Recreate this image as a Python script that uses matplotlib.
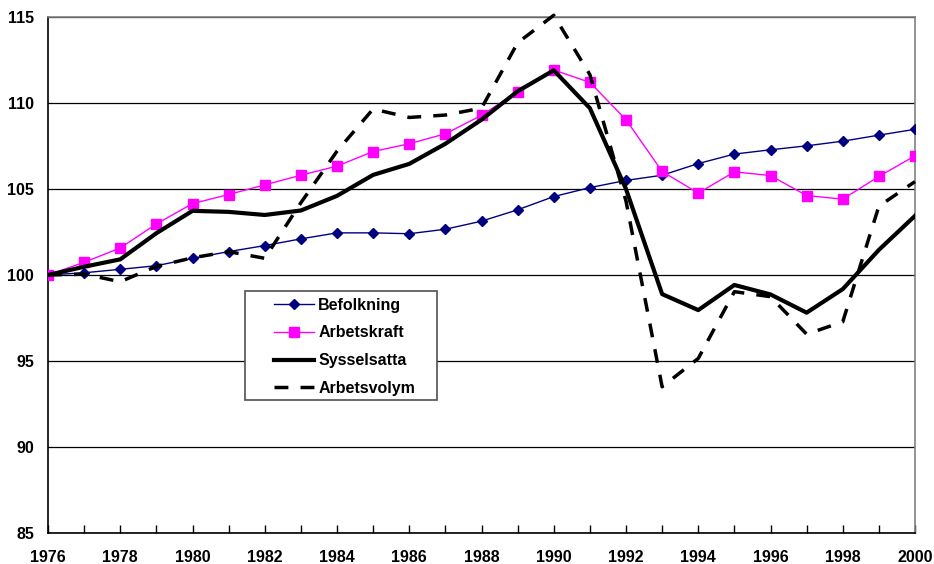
import numpy as np
import matplotlib.pyplot as plt
from matplotlib.ticker import MultipleLocator
from matplotlib.patches import Rectangle

plt.rcParams['font.family'] = ['Liberation Sans', 'DejaVu Sans']

years = list(range(1976, 2001))

befolkning = [100.0, 100.13, 100.33, 100.54, 100.97, 101.36, 101.71, 102.1, 102.45, 102.45,
              102.4, 102.66, 103.13, 103.79, 104.56, 105.08, 105.5, 105.8, 106.48, 107.03,
              107.28, 107.51, 107.78, 108.13, 108.47]
arbetskraft = [100.0, 100.74, 101.57, 102.97, 104.15, 104.68, 105.24, 105.8, 106.33, 107.18,
               107.63, 108.21, 109.28, 110.66, 111.92, 111.2, 109.03, 106.02, 104.76, 106.0,
               105.78, 104.62, 104.41, 105.73, 106.93]
sysselsatta = [100.0, 100.48, 100.91, 102.43, 103.73, 103.67, 103.49, 103.75, 104.6, 105.82,
               106.46, 107.63, 109.03, 110.68, 111.9, 109.7, 105.0, 98.89, 97.96, 99.42,
               98.87, 97.81, 99.18, 101.46, 103.44]
arbetsvolym = [100.0, 100.05, 99.61, 100.5, 101.0, 101.36, 100.97, 104.2, 107.2, 109.65,
               109.16, 109.3, 109.7, 113.5, 115.1, 111.65, 104.3, 93.5, 95.15, 99.03,
               98.74, 96.56, 97.28, 104.0, 105.43]

fig = plt.figure(figsize=(9.34, 5.64), dpi=100)
ax = fig.add_axes([48 / 934, 31 / 564, 867 / 934, 516 / 564])

ax.plot(years, befolkning, color='#000080', lw=1, marker='D', ms=5,
        label='Befolkning', zorder=3)
ax.plot(years, arbetskraft, color='#FF00FF', lw=1, marker='s', ms=7,
        label='Arbetskraft', zorder=3)
ax.plot(years, sysselsatta, color='black', lw=3, label='Sysselsatta', zorder=4)
ax.plot(years, arbetsvolym, color='black', lw=2.5, dashes=(4, 3.5),
        label='Arbetsvolym', zorder=4, clip_on=False)

ax.set_xlim(1976, 2000)
ax.set_ylim(85, 115)
ax.xaxis.set_major_locator(MultipleLocator(2))
ax.xaxis.set_minor_locator(MultipleLocator(1))
ax.yaxis.set_major_locator(MultipleLocator(5))
ax.tick_params(axis='x', which='both', direction='in', length=6, width=1,
               labelsize=11.5, pad=12, colors='black')
ax.tick_params(axis='y', length=0, labelsize=11.5, pad=10)
for lab in ax.get_xticklabels() + ax.get_yticklabels():
    lab.set_fontweight('bold')

ax.grid(axis='y', color='black', lw=0.9)
ax.set_axisbelow(True)
ax.spines['left'].set_color('black')
ax.spines['bottom'].set_color('black')
ax.spines['top'].set_color('#808080')
ax.spines['right'].set_color('#808080')
for s in ax.spines.values():
    s.set_linewidth(1.2)

# legend box drawn separately so the entries can sit inset like the original
box = Rectangle((245 / 934, 1 - 400 / 564), 192 / 934, 109 / 564,
                transform=fig.transFigure, facecolor='white',
                edgecolor='#505050', lw=1.2, zorder=5)
ax.add_patch(box)
box.set_clip_on(False)

leg = ax.legend(loc='upper left', bbox_to_anchor=(268 / 934, 1 - 292 / 564),
                bbox_transform=fig.transFigure, borderaxespad=0,
                frameon=False, handlelength=2.55, handletextpad=0.25,
                labelspacing=0.8, borderpad=0.35,
                prop={'weight': 'bold', 'size': 11.5})
leg.set_zorder(6)

fig.savefig('out.png', dpi=100)
